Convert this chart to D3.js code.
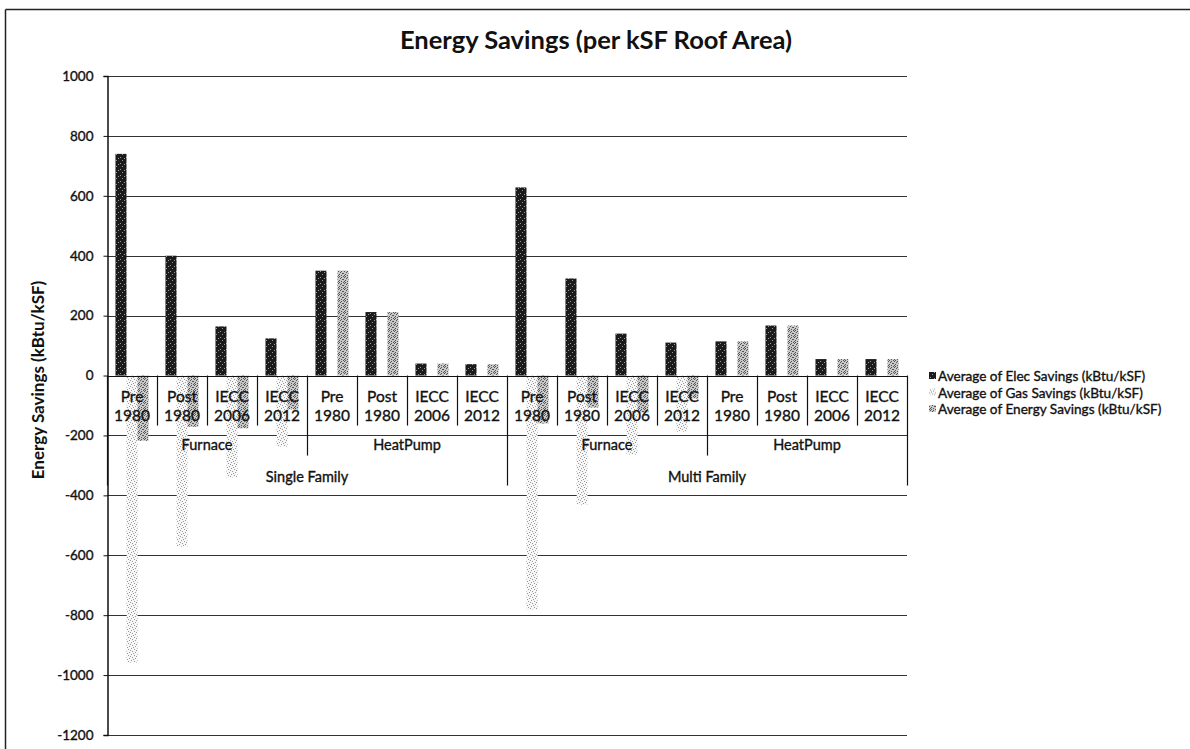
<!DOCTYPE html>
<html>
<head>
<meta charset="utf-8">
<script src="https://cdn.jsdelivr.net/npm/d3@7"></script>
<style>
  html, body { margin: 0; padding: 0; background: #fff; }
  svg { display: block; font-family: Lato, "Noto Sans", sans-serif; }
  .thick { stroke: #111; stroke-width: 0.35px; }
</style>
</head>
<body>
<svg id="chart" width="1190" height="749"></svg>
<script>
// ---- data ----
const groupsOuter = ["Single Family", "Multi Family"];
const groupsMiddle = ["Furnace", "HeatPump"];
const vintages = [["Pre", "1980"], ["Post", "1980"], ["IECC", "2006"], ["IECC", "2012"]];
const seriesNames = [
  "Average of Elec Savings (kBtu/kSF)",
  "Average of Gas Savings (kBtu/kSF)",
  "Average of Energy Savings (kBtu/kSF)"
];
const elecSavings   = [740, 400, 164, 124, 350, 212, 40, 38, 628, 324, 140, 110, 114, 167, 55, 55];
const gasSavings    = [-958, -571, -340, -237, 0, 0, 0, 0, -781, -431, -264, -187, 0, 0, 0, 0];
const energySavings = [-218, -171, -176, -113, 350, 212, 40, 38, -160, -107, -124, -77, 114, 167, 55, 55];
const yTicks = [1000, 800, 600, 400, 200, 0, -200, -400, -600, -800, -1000, -1200];

(function () {
const categories = [];
groupsOuter.forEach(o => groupsMiddle.forEach(m => vintages.forEach(v => categories.push({outer: o, middle: m, vint: v}))));
const seriesValues = [elecSavings, gasSavings, energySavings];
const rows = categories.map((c, i) => ({i, c, vals: seriesValues.map((s, k) => ({k, v: s[i]}))}));

const svg = d3.select("#chart");
const defs = svg.append("defs");

function pat(id, bg, dots, dotColor, size) {
  const p = defs.append("pattern").attr("id", id).attr("patternUnits", "userSpaceOnUse")
    .attr("width", size).attr("height", size);
  p.append("rect").attr("width", size).attr("height", size).attr("fill", bg);
  dots.forEach(d => p.append("rect").attr("x", d[0]).attr("y", d[1]).attr("width", 1).attr("height", 1).attr("fill", dotColor));
}
pat("pElec", "#1b1b1b", [[1, 1], [3, 4], [5, 2]], "#9a9a9a", 6);
pat("pGas", "#f7f7f7", [[0, 0], [3, 1], [1, 3], [4, 4], [2, 5], [5, 2]], "#999", 6);
pat("pEnergy", "#c8c8c8", [[0, 0], [2, 0], [1, 1], [3, 2], [0, 3], [2, 4], [4, 1], [5, 3], [4, 5], [1, 5]], "#555", 6);
const fills = ["url(#pElec)", "url(#pGas)", "url(#pEnergy)"];

// chart frame
svg.append("line").attr("x1", 5.5).attr("x2", 1190).attr("y1", 9.5).attr("y2", 9.5).attr("stroke", "#222").attr("stroke-width", 1.5);
svg.append("line").attr("x1", 5.5).attr("x2", 5.5).attr("y1", 9.5).attr("y2", 749).attr("stroke", "#222").attr("stroke-width", 1.5);

const pLeft = 107, pRight = 907, pTop = 76, pBottom = 735;
const x0 = d3.scaleBand().domain(d3.range(categories.length)).range([pLeft, pRight]).paddingInner(0).paddingOuter(0);
const x1 = d3.scaleBand().domain([0, 1, 2]).range([0, x0.bandwidth()]).paddingInner(0).paddingOuter(0.77);
const y = d3.scaleLinear().domain([-1200, 1000]).range([pBottom, pTop]);

// gridlines
svg.append("g").selectAll("line").data(yTicks).join("line")
  .attr("x1", pLeft).attr("x2", pRight)
  .attr("y1", d => Math.round(y(d)) + 0.5).attr("y2", d => Math.round(y(d)) + 0.5)
  .attr("stroke", "#333").attr("stroke-width", 1);

// y axis
const yAxis = d3.axisLeft(y).tickValues(yTicks).tickSize(4).tickPadding(10).tickFormat(d => String(d));
const gy = svg.append("g").attr("transform", `translate(${pLeft + 0.5},0)`).call(yAxis);
gy.select(".domain").attr("stroke", "#111").attr("stroke-width", 1.5);
gy.selectAll(".tick line").attr("stroke", "#111");
gy.selectAll(".tick text").attr("class", "thick").attr("font-family", "Lato, sans-serif").attr("font-size", 13.5).attr("fill", "#111");

// bars
const y0 = y(0);
svg.append("g").selectAll("g").data(rows).join("g")
  .attr("transform", d => `translate(${x0(d.i)},0)`)
  .selectAll("rect").data(d => d.vals.filter(v => v.v !== 0)).join("rect")
  .attr("x", d => x1(d.k))
  .attr("width", x1.bandwidth())
  .attr("y", d => Math.min(y(d.v), y0))
  .attr("height", d => Math.abs(y(d.v) - y0))
  .attr("fill", d => fills[d.k]);

svg.append("line").attr("x1", pLeft).attr("x2", pRight).attr("y1", Math.round(y0) + 0.5).attr("y2", Math.round(y0) + 0.5)
  .attr("stroke", "#111").attr("stroke-width", 1);

// multi-level category labels
const row1Bottom = y0 + 50, row2Bottom = y0 + 80, row3Bottom = y0 + 110;
const cat = svg.append("g").attr("fill", "#111");
const bw = x0.bandwidth();
d3.range(categories.length + 1).forEach(i => {
  let yEnd = row1Bottom;
  if (i === 0 || i === categories.length) yEnd = row3Bottom;
  else if (i % 8 === 0) yEnd = row3Bottom;
  else if (i % 4 === 0) yEnd = row2Bottom;
  const xx = (i < categories.length ? x0(i) : pRight);
  cat.append("line").attr("x1", Math.round(xx) + 0.5).attr("x2", Math.round(xx) + 0.5)
    .attr("y1", y0).attr("y2", yEnd).attr("stroke", "#111").attr("stroke-width", 1.2);
});
const l1 = cat.selectAll("text.l1").data(categories).join("text").attr("class", "l1 thick")
  .attr("x", (d, i) => x0(i) + bw / 2).attr("y", y0 + 26.5)
  .attr("text-anchor", "middle").attr("font-size", 15.5);
l1.each(function (d, i) {
  const t = d3.select(this);
  d.vint.forEach((s, j) => t.append("tspan").attr("x", x0(i) + bw / 2).attr("dy", j === 0 ? 0 : 19).text(s));
});
const mid = [];
groupsOuter.forEach((o, oi) => groupsMiddle.forEach((m, mi) => mid.push({name: m, start: oi * 8 + mi * 4})));
cat.selectAll("text.l2").data(mid).join("text").attr("class", "l2 thick")
  .attr("x", d => x0(d.start) + bw * 2).attr("y", y0 + 74.5)
  .attr("text-anchor", "middle").attr("font-size", 14.5).text(d => d.name);
cat.selectAll("text.l3").data(groupsOuter).join("text").attr("class", "l3 thick")
  .attr("x", (d, i) => x0(i * 8) + bw * 4).attr("y", y0 + 106.5)
  .attr("text-anchor", "middle").attr("font-size", 14.5).text(d => d);

// titles
svg.append("text").attr("x", 596).attr("y", 49).attr("text-anchor", "middle")
  .attr("font-size", 25.5).attr("font-weight", "bold").attr("fill", "#111")
  .text("Energy Savings (per kSF Roof Area)");
svg.append("text").attr("transform", "translate(44,380) rotate(-90)").attr("text-anchor", "middle")
  .attr("font-size", 17).attr("font-weight", "bold").attr("fill", "#111")
  .text("Energy Savings (kBtu/kSF)");

// legend
const lg = svg.append("g").attr("transform", "translate(929,376)");
const li = lg.selectAll("g").data(seriesNames).join("g").attr("transform", (d, i) => `translate(0,${i * 16.5})`);
li.append("rect").attr("x", 0).attr("y", -4).attr("width", 7).attr("height", 7).attr("fill", (d, i) => fills[i]);
li.append("text").attr("class", "thick").attr("x", 9).attr("y", 5).attr("font-size", 13.6).attr("fill", "#111").text(d => d);
})();
</script>
</body>
</html>
